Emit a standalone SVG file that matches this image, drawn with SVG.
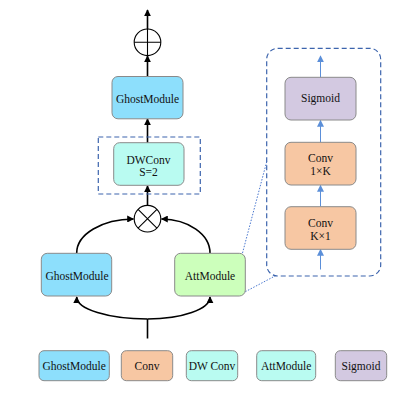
<svg xmlns="http://www.w3.org/2000/svg" width="416" height="409" viewBox="0 0 416 409">
<style>
text{font-family:"Liberation Serif","Times New Roman",serif;font-size:11.5px;fill:#111;text-anchor:middle}
.box{stroke:#8a8a8a;stroke-width:1}
.gm{fill:#8ddffc}.cv{fill:#f7c7a3}.dw{fill:#b9fbf1}.att{fill:#ccffbb}.sg{fill:#d3c9e1}
.blk{fill:none;stroke:#000;stroke-width:1.6}
.blu{fill:none;stroke:#5b8fd9;stroke-width:1}
.dash{fill:none;stroke:#3c64ad;stroke-width:1.2;stroke-dasharray:5,3}
.dot{fill:none;stroke:#4a78d0;stroke-width:1;stroke-dasharray:1.5,1.5}
</style>
<defs>
<marker id="ab" viewBox="0 0 10 10" refX="9" refY="5" markerWidth="7" markerHeight="7" markerUnits="userSpaceOnUse" orient="auto"><path d="M0,0L10,5L0,10z" fill="#000"/></marker>
<marker id="al" viewBox="0 0 10 10" refX="9" refY="5" markerWidth="7" markerHeight="7" markerUnits="userSpaceOnUse" orient="auto"><path d="M0,0L10,5L0,10z" fill="#5b8fd9"/></marker>
</defs>
<g id="connectors">
<line class="blk" x1="147.5" y1="29" x2="147.5" y2="10" marker-end="url(#ab)"/>
<line class="blk" x1="147.5" y1="76.5" x2="147.5" y2="56" marker-end="url(#ab)"/>
<line class="blk" x1="147.5" y1="143" x2="147.5" y2="119" marker-end="url(#ab)"/>
<line class="blk" x1="147.5" y1="205.5" x2="147.5" y2="186" marker-end="url(#ab)"/>
<path class="blk" d="M76.7,253 A57,34 0 0,1 133.5,219" marker-end="url(#ab)"/>
<path class="blk" d="M210,253 A49,34 0 0,0 161.5,219" marker-end="url(#ab)"/>
<line class="blk" x1="147.5" y1="338.5" x2="147.5" y2="319"/>
<path class="blk" d="M147.5,319 A70.8,22 0 0,1 76.7,297" marker-end="url(#ab)"/>
<path class="blk" d="M147.5,319 A62.5,22 0 0,0 210,297" marker-end="url(#ab)"/>
<line class="blu" x1="320.5" y1="269.5" x2="320.5" y2="249.5" marker-end="url(#al)"/>
<line class="blu" x1="320.5" y1="206.5" x2="320.5" y2="185.5" marker-end="url(#al)"/>
<line class="blu" x1="320.5" y1="142.5" x2="320.5" y2="120.5" marker-end="url(#al)"/>
<line class="blu" x1="320.5" y1="77.5" x2="320.5" y2="56" marker-end="url(#al)"/>
<line class="dot" x1="242.5" y1="253" x2="266.7" y2="161.7"/>
<line class="dot" x1="245.3" y1="291.7" x2="275" y2="276"/>
</g>
<g id="add">
<circle cx="147.5" cy="42.3" r="13.3" fill="#fff" stroke="#000" stroke-width="1.1"/>
<path d="M134.2,42.3H160.8M147.5,29V55.6" stroke="#000" stroke-width="1.1"/>
</g>
<g id="mul">
<circle cx="147.5" cy="218.7" r="13.3" fill="#fff" stroke="#000" stroke-width="1.1"/>
<path d="M138.1,209.3L156.9,228.1M156.9,209.3L138.1,228.1" stroke="#000" stroke-width="1.1"/>
</g>
<g id="ghost-top">
<rect class="box gm" x="112" y="76.5" width="71" height="42.3" rx="6"/>
<text x="147.5" y="102.5">GhostModule</text>
</g>
<g id="dw-group">
<rect class="dash" x="98.3" y="137" width="102" height="57"/>
</g>
<g id="dwconv">
<rect class="box dw" x="113.7" y="142.7" width="70.3" height="42.6" rx="6"/>
<text x="148.5" y="163.5">DWConv</text>
<text x="148.5" y="176">S=2</text>
</g>
<g id="ghost-left">
<rect class="box gm" x="41.3" y="253.3" width="70.4" height="42.7" rx="6"/>
<text x="77" y="279.5">GhostModule</text>
</g>
<g id="att">
<rect class="box att" x="174.7" y="253.3" width="70.6" height="42.7" rx="6"/>
<text x="210" y="279.5">AttModule</text>
</g>
<g id="att-detail">
<rect class="dash" x="266.7" y="48.3" width="114" height="227.7" rx="11"/>
</g>
<g id="sigmoid">
<rect class="box sg" x="285" y="77.3" width="71" height="42.7" rx="6"/>
<text x="320.5" y="102.3">Sigmoid</text>
</g>
<g id="conv1k">
<rect class="box cv" x="285" y="142.3" width="71" height="42.7" rx="6"/>
<text x="320.5" y="162">Conv</text>
<text x="320.5" y="175">1×K</text>
</g>
<g id="convk1">
<rect class="box cv" x="285" y="206.7" width="71" height="42.6" rx="6"/>
<text x="320.5" y="226.5">Conv</text>
<text x="320.5" y="239.5">K×1</text>
</g>
<g id="legend-ghost">
<rect class="box gm" x="39" y="350.7" width="70.3" height="30" rx="5"/>
<text x="74.2" y="369.5">GhostModule</text>
</g>
<g id="legend-conv">
<rect class="box cv" x="121.3" y="350.7" width="51.4" height="30" rx="5"/>
<text x="147" y="369.5">Conv</text>
</g>
<g id="legend-dw">
<rect class="box dw" x="186.3" y="350.7" width="51.4" height="30" rx="5"/>
<text x="212" y="369.5">DW Conv</text>
</g>
<g id="legend-att">
<rect class="box dw" x="256.7" y="350.7" width="59" height="30" rx="5"/>
<text x="286.2" y="369.5">AttModule</text>
</g>
<g id="legend-sigmoid">
<rect class="box sg" x="335.3" y="350.7" width="51.4" height="30" rx="5"/>
<text x="361" y="369.5">Sigmoid</text>
</g>
</svg>
